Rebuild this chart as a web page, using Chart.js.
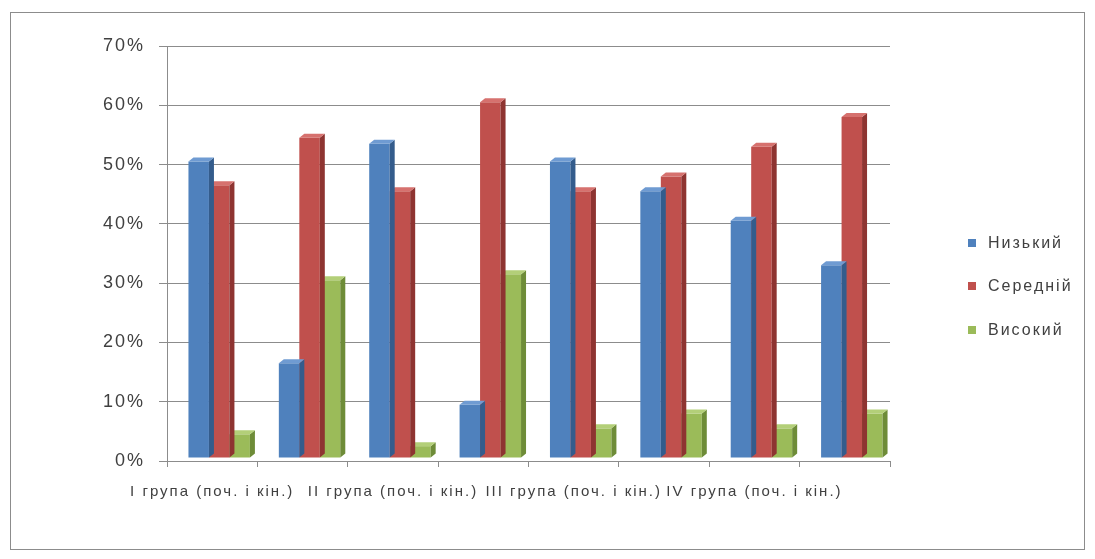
<!DOCTYPE html>
<html>
<head>
<meta charset="utf-8">
<script src="https://cdn.jsdelivr.net/npm/chart.js@4.4.0/dist/chart.umd.min.js"></script>
<style>
    body { margin: 0; background: #fff; }
    #wrap { position: absolute; left: 10px; top: 12px; width: 1073px; height: 536px; border: 1px solid #8c8c8c; }
    #legend { position: absolute; left: 957px; top: 208px; list-style: none; margin: 0; padding: 0;
        font: 16px 'Liberation Sans', Arial, sans-serif; color: #404040; letter-spacing: 2px; }
    #legend li { height: 43.5px; display: flex; align-items: center; }
    #legend span.box { display: inline-block; width: 8px; height: 8px; margin-right: 12px; }
</style>
</head>
<body>
<div id="wrap">
    <canvas id="chart" width="1073" height="536"></canvas>
    <ul id="legend"></ul>
</div>
<script>
const categories = [
    'I група (поч. і кін.)', 'I група (поч. і кін.)',
    'II група (поч. і кін.)', 'II група (поч. і кін.)',
    'III група (поч. і кін.)', 'III група (поч. і кін.)',
    'IV група (поч. і кін.)', 'IV група (поч. і кін.)'
];
const seriesNames = ['Низький', 'Середній', 'Високий'];
const lowValues = [50, 16, 53, 9, 50, 45, 40, 32.5];
const midValues = [46, 54, 45, 60, 45, 47.5, 52.5, 57.5];
const highValues = [4, 30, 2, 31, 5, 7.5, 5, 7.5];
const yTicks = [0, 10, 20, 30, 40, 50, 60, 70];

const colors = ['#4F81BD', '#C0504D', '#9BBB59'];
const sideColors = ['#345C8C', '#8E3431', '#6E8C38'];
const topColors = ['#6F9BD2', '#D6716E', '#B3CF78'];

Chart.defaults.font.family = "'Liberation Sans', Arial, sans-serif";
Chart.defaults.color = '#404040';

// fake depth for the bars: shift them back a bit and draw side and top faces
const depthPlugin = {
    id: 'depth',
    beforeDraw(chart) {
        chart.ctx.letterSpacing = '2px';
    },
    beforeDatasetsDraw(chart) {
        chart.ctx.save();
        chart.ctx.translate(7, -3);
    },
    afterDatasetDraw(chart, args) {
        const ctx = chart.ctx;
        const i = args.index;
        const dx = 5, dy = 4;
        args.meta.data.forEach(bar => {
            const right = bar.x + bar.width / 2;
            const left = bar.x - bar.width / 2;
            ctx.fillStyle = sideColors[i];
            ctx.beginPath();
            ctx.moveTo(right, bar.y);
            ctx.lineTo(right + dx, bar.y - dy);
            ctx.lineTo(right + dx, bar.base - dy);
            ctx.lineTo(right, bar.base);
            ctx.closePath();
            ctx.fill();
            ctx.fillStyle = topColors[i];
            ctx.beginPath();
            ctx.moveTo(left, bar.y);
            ctx.lineTo(left + dx, bar.y - dy);
            ctx.lineTo(right + dx, bar.y - dy);
            ctx.lineTo(right, bar.y);
            ctx.closePath();
            ctx.fill();
        });
    },
    afterDatasetsDraw(chart) {
        chart.ctx.restore();
    }
};

const ctx = document.getElementById('chart').getContext('2d');
const chart = new Chart(ctx, {
    type: 'bar',
    data: {
        labels: categories,
        datasets: [lowValues, midValues, highValues].map((values, i) => ({
            label: seriesNames[i],
            data: values,
            backgroundColor: colors[i],
            borderWidth: 0,
            barPercentage: 1,
            categoryPercentage: 0.68
        }))
    },
    options: {
        responsive: false,
        animation: false,
        devicePixelRatio: 1,
        layout: {
            padding: { left: 0, top: 33, right: 194, bottom: 48 }
        },
        scales: {
            x: {
                grid: {
                    drawOnChartArea: false,
                    drawTicks: true,
                    tickLength: 6,
                    color: '#8c8c8c'
                },
                border: { color: '#8c8c8c' },
                ticks: {
                    autoSkip: false,
                    maxRotation: 0,
                    padding: 16,
                    font: { size: 15 },
                    callback: (value, index) => index % 2 === 0 ? categories[index] : ''
                },
                afterFit: scale => { scale.height = 40; }
            },
            y: {
                min: 0,
                max: 70,
                afterBuildTicks: scale => { scale.ticks = yTicks.map(v => ({ value: v })); },
                grid: {
                    color: '#8c8c8c',
                    tickLength: 8
                },
                border: { color: '#8c8c8c' },
                ticks: {
                    padding: 14,
                    font: { size: 18 },
                    callback: value => value + '%'
                },
                afterFit: scale => { scale.width = 156; }
            }
        },
        plugins: {
            legend: { display: false },
            tooltip: { enabled: false }
        }
    },
    plugins: [depthPlugin]
});

// legend on the right
const legend = document.getElementById('legend');
seriesNames.forEach((name, i) => {
    const item = document.createElement('li');
    const box = document.createElement('span');
    box.classList.add('box');
    box.style.background = colors[i];
    item.appendChild(box);
    item.appendChild(document.createTextNode(name));
    legend.appendChild(item);
});
</script>
</body>
</html>
